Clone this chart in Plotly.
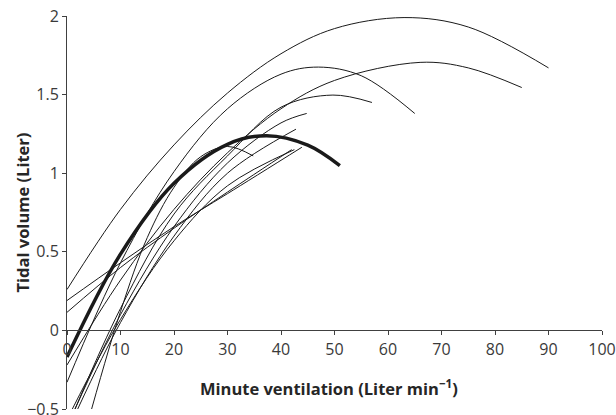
import plotly.graph_objects as go

# individual subjects: minute ventilation (L/min) vs tidal volume (L)
x_s1 = [0, 10, 20, 30, 40, 50, 63, 75, 90]
y_s1 = [0.26, 0.77, 1.18, 1.51, 1.76, 1.92, 1.99, 1.93, 1.67]

x_s2 = [0, 10, 20, 30, 40, 50, 66, 75, 85]
y_s2 = [-0.22, 0.32, 0.77, 1.13, 1.41, 1.59, 1.705, 1.67, 1.545]

x_s3 = [0, 10, 20, 30, 40, 47, 55, 65]
y_s3 = [-0.33, 0.43, 1.01, 1.41, 1.63, 1.675, 1.62, 1.38]

x_s4 = [1.5, 10, 20, 30, 40, 49.7, 57]
y_s4 = [-0.5, 0.14, 0.74, 1.11, 1.42, 1.497, 1.45]

x_s5 = [1.5, 10, 20, 30, 40, 44.8]
y_s5 = [-0.5, 0.10, 0.66, 1.065, 1.32, 1.38]

x_s6 = [2, 10, 20, 30, 42.8]
y_s6 = [-0.5, 0.05, 0.60, 1.0, 1.28]

x_s7 = [1.0, 10, 20, 30, 42.5]
y_s7 = [-0.5, 0.07, 0.57, 0.92, 1.15]

x_s8 = [0, 10, 20, 30, 43.9]
y_s8 = [0.19, 0.43, 0.66, 0.87, 1.165]

x_s9 = [0, 10, 20, 30, 42]
y_s9 = [0.115, 0.40, 0.65, 0.88, 1.15]

x_s10 = [4.6, 10, 15, 20, 25, 30, 34.8]
y_s10 = [-0.5, 0.12, 0.59, 0.91, 1.105, 1.17, 1.11]

# group mean curve (thick)
x_mean = [0, 10, 20, 30, 37.3, 45, 51]
y_mean = [-0.17, 0.485, 0.936, 1.184, 1.238, 1.178, 1.048]

subjects = [(x_s1, y_s1), (x_s2, y_s2), (x_s3, y_s3), (x_s4, y_s4), (x_s5, y_s5),
            (x_s6, y_s6), (x_s7, y_s7), (x_s8, y_s8), (x_s9, y_s9), (x_s10, y_s10)]

fig = go.Figure()
for xs, ys in subjects:
    fig.add_trace(go.Scatter(x=xs, y=ys, mode='lines', line=dict(color='#1a1a1a', width=1, shape='spline'),
                             showlegend=False))
fig.add_trace(go.Scatter(x=x_mean, y=y_mean, mode='lines', line=dict(color='#1a1a1a', width=3.5, shape='spline'),
                         showlegend=False))

tick_font = dict(family='Open Sans', size=16, color='#3a3a3a')
fig.update_layout(width=616, height=415, margin=dict(l=67, r=14, t=16, b=6),
                  plot_bgcolor='white', paper_bgcolor='white')
fig.update_xaxes(range=[0, 100], dtick=10, anchor='free', position=0.2, showline=True, linecolor='#404040',
                 linewidth=1, ticks='outside', ticklen=4, tickcolor='#404040', showgrid=False, zeroline=False,
                 tickfont=tick_font, ticklabeloverflow='allow', automargin=False)
fig.update_yaxes(range=[-0.5, 2], dtick=0.5, showline=True, linecolor='#404040', linewidth=1, ticks='outside',
                 ticklen=4, tickcolor='#404040', showgrid=False, zeroline=False, tickfont=tick_font,
                 ticklabeloverflow='allow', automargin=False)

title_font = dict(family='Open Sans', size=16.5, color='#262626')
fig.add_annotation(text='<b>Minute ventilation (Liter min<sup>−1</sup>)</b>', xref='paper', yref='paper',
                   x=0.49, y=0.053, xanchor='center', yanchor='middle', showarrow=False, font=title_font)
fig.add_annotation(text='<b>Tidal volume (Liter)</b>', xref='paper', yref='paper', x=-0.084, y=0.5,
                   xanchor='center', yanchor='middle', textangle=-90, showarrow=False, font=title_font)

# drop the default 8px body margin so the figure fills the window exactly
fig.write_html("out.html", config={'displayModeBar': False},
               post_script="document.body.style.margin='0';")
